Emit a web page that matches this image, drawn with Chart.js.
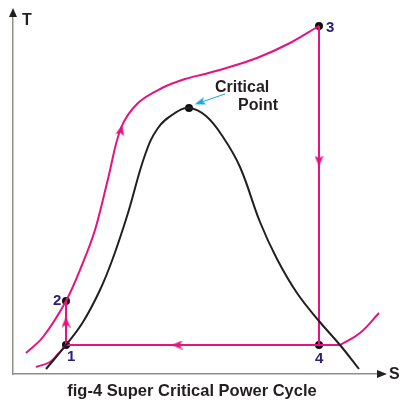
<!DOCTYPE html>
<html>
<head>
<meta charset="utf-8">
<style>
  html, body { margin: 0; padding: 0; background: #fff; }
  canvas { display: block; }
</style>
<script src="https://cdn.jsdelivr.net/npm/chart.js@4"></script>
</head>
<body>
<canvas id="chart" width="404" height="404"></canvas>
<script>
"use strict";

const domeS = [33, 53, 70, 87, 100, 115, 132, 145, 162, 176, 193, 210, 227, 247, 264, 284, 306, 327, 346];
const domeT = [5, 29, 52, 84, 116, 161, 219, 246, 261, 266, 258, 237, 207, 152, 115, 81, 53, 29, 5];

const heatingS = [13, 30, 53, 69, 82, 95, 108, 125, 149, 172, 192, 210, 244, 277, 306];
const heatingT = [21, 37, 73, 109, 144, 195, 246, 271, 286, 295, 300, 305, 316, 331, 348];

const lowS = [23, 37, 45, 53];
const lowT = [7, 12, 20, 29];

const tailS = [327, 347, 366];
const tailT = [29, 41, 61];

const pumpS = [53, 53];
const pumpT = [29, 73];

const turbineS = [306, 306];
const turbineT = [348, 29];

const condenserS = [53, 327];
const condenserT = [29, 29];

const stateS = [53, 53, 306, 306, 176];
const stateT = [29, 73, 348, 29, 266];
const stateNames = ["1", "2", "3", "4"];

const calloutS = [212, 187];
const calloutT = [280, 271.5];

const arrowS = [53, 108, 306, 164];
const arrowT = [52, 244, 213, 29];
const arrowAngles = [0, 14, 180, 270];

const axisLabels = ["T", "S"];
const calloutLines = ["Critical", "Point"];
const caption = "fig-4 Super Critical Power Cycle";

const PINK = "#e5127f";
const BLACK = "#231f20";
const NAVY = "#2b2080";
const BLUE = "#1ba6e2";
const AXIS_GRAY = "#8f8f88";

function toPoints(xs, ys) {
  return xs.map((x, i) => ({ x: x, y: ys[i] }));
}

function curve(xs, ys, color, tension) {
  return {
    data: toPoints(xs, ys),
    borderColor: color,
    borderWidth: 2,
    pointRadius: 0,
    tension: tension,
    fill: false
  };
}

// Notched arrowhead pointing up, used as a point style
function arrowHead(color, w, h) {
  const c = document.createElement("canvas");
  c.width = w;
  c.height = h;
  const g = c.getContext("2d");
  g.fillStyle = color;
  g.beginPath();
  g.moveTo(w / 2, 0);
  g.lineTo(w, h);
  g.lineTo(w / 2, h * 0.75);
  g.lineTo(0, h);
  g.closePath();
  g.fill();
  return c;
}

// Text and axis arrowheads, placed through the chart's own scales
const labelsPlugin = {
  id: "labels",
  afterDatasetsDraw(chart) {
    const ctx = chart.ctx;
    const sx = v => chart.scales.x.getPixelForValue(v);
    const ty = v => chart.scales.y.getPixelForValue(v);

    function text(str, x, y, font, color) {
      ctx.font = font;
      ctx.fillStyle = color;
      ctx.fillText(str, x, y);
    }

    ctx.save();
    ctx.textAlign = "left";
    ctx.textBaseline = "alphabetic";

    // axis arrowheads
    const area = chart.chartArea;
    ctx.fillStyle = BLACK;
    ctx.beginPath();
    ctx.moveTo(area.left, area.top - 7);
    ctx.lineTo(area.left - 4, area.top + 2);
    ctx.lineTo(area.left + 4, area.top + 2);
    ctx.closePath();
    ctx.fill();
    ctx.beginPath();
    ctx.moveTo(area.right + 7, area.bottom);
    ctx.lineTo(area.right - 3, area.bottom - 4);
    ctx.lineTo(area.right - 3, area.bottom + 4);
    ctx.closePath();
    ctx.fill();

    const bold16 = "bold 16px 'Liberation Sans'";
    const bold15 = "bold 15px 'Liberation Sans'";
    text(axisLabels[0], area.left + 9, area.top + 10, bold16, BLACK);
    text(axisLabels[1], area.right + 9, area.bottom + 5, bold16, BLACK);

    text(stateNames[0], sx(54), ty(13), bold15, NAVY);
    text(stateNames[1], sx(40), ty(69), bold15, NAVY);
    text(stateNames[2], sx(313), ty(342), bold15, NAVY);
    text(stateNames[3], sx(302), ty(11), bold15, NAVY);

    text(calloutLines[0], sx(202), ty(282), bold16, BLACK);
    text(calloutLines[1], sx(225), ty(264), bold16, BLACK);

    ctx.textAlign = "center";
    text(caption, 192, 396, "bold 16.5px 'Liberation Sans'", BLACK);
    ctx.restore();
  }
};

new Chart(document.getElementById("chart"), {
  type: "line",
  data: {
    datasets: [
      curve(domeS, domeT, BLACK, 0.4),
      curve(heatingS, heatingT, PINK, 0.35),
      curve(lowS, lowT, PINK, 0.4),
      curve(tailS, tailT, PINK, 0.4),
      curve(pumpS, pumpT, PINK, 0),
      curve(turbineS, turbineT, PINK, 0),
      curve(condenserS, condenserT, PINK, 0),
      {
        data: toPoints(calloutS, calloutT),
        borderColor: BLUE,
        borderWidth: 1,
        pointRadius: [0, 5],
        pointStyle: arrowHead(BLUE, 8, 11),
        pointRotation: 251
      },
      {
        data: toPoints(arrowS, arrowT),
        showLine: false,
        pointStyle: arrowHead(PINK, 9, 11),
        pointRadius: 5,
        pointRotation: arrowAngles
      },
      {
        data: toPoints(stateS, stateT),
        showLine: false,
        pointRadius: 4,
        pointBackgroundColor: "#111",
        pointBorderWidth: 0
      }
    ]
  },
  options: {
    responsive: false,
    animation: false,
    layout: { padding: { left: 13, right: 24, top: 15, bottom: 30 } },
    plugins: {
      legend: { display: false },
      title: { display: false },
      tooltip: { enabled: false }
    },
    scales: {
      x: {
        type: "linear",
        min: 0,
        max: 367,
        afterFit(scale) { scale.height = 0; },
        ticks: { display: false },
        grid: { display: false },
        border: { color: AXIS_GRAY, width: 1.5 }
      },
      y: {
        type: "linear",
        min: 0,
        max: 359,
        afterFit(scale) { scale.width = 0; },
        ticks: { display: false },
        grid: { display: false },
        border: { color: AXIS_GRAY, width: 1.5 }
      }
    }
  },
  plugins: [labelsPlugin]
});
</script>
</body>
</html>
